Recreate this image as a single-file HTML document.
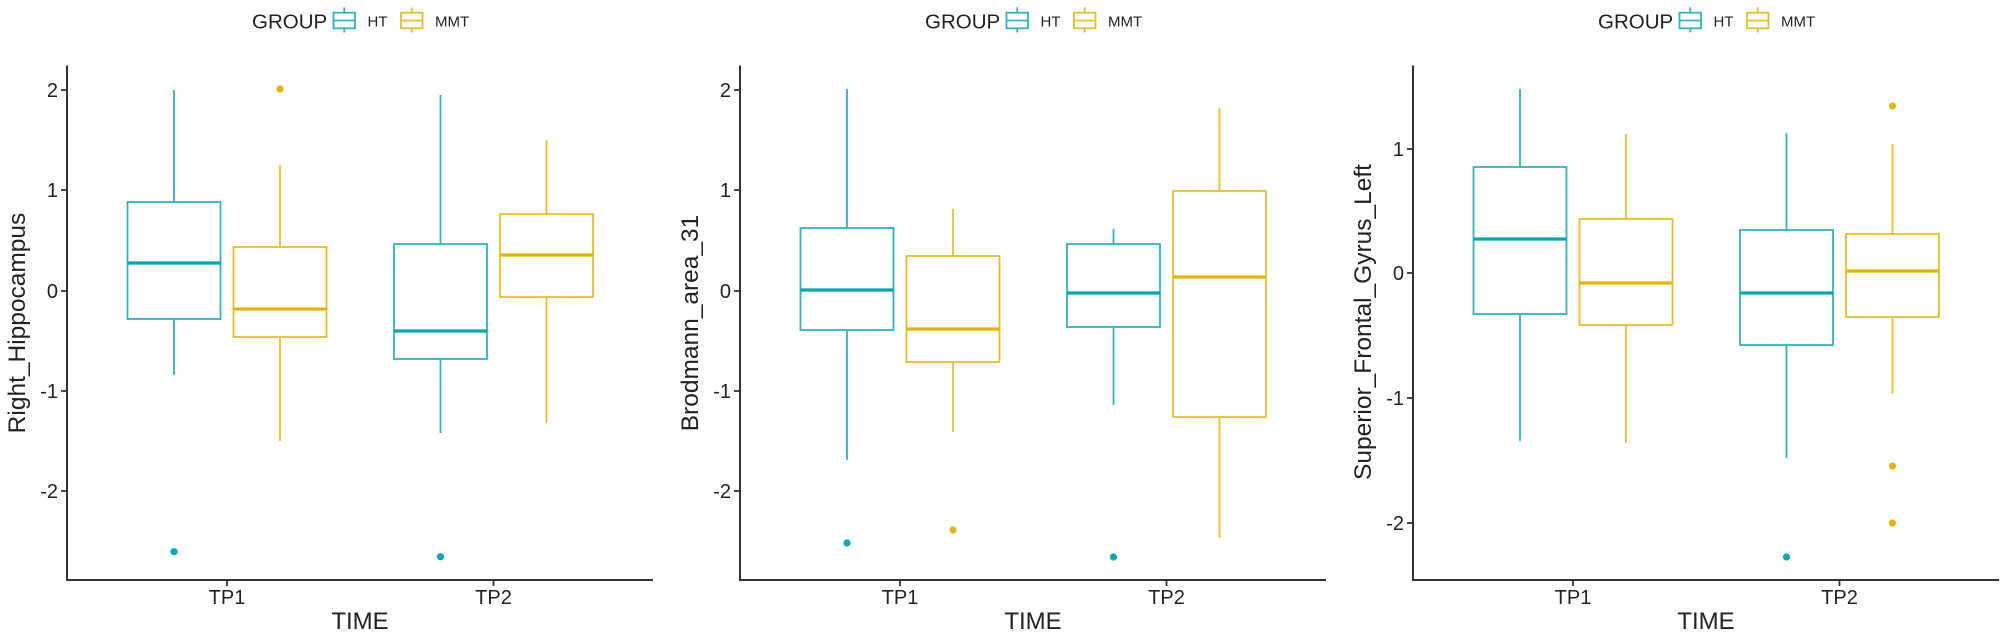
<!DOCTYPE html>
<html><head><meta charset="utf-8"><style>
html,body{margin:0;padding:0;background:#fff;}
svg{display:block;}
text{font-family:"Liberation Sans",Arial,sans-serif;fill:#222;}
</style></head><body>
<svg width="2005" height="638" viewBox="0 0 2005 638" xmlns="http://www.w3.org/2000/svg">
<defs>
<g id="legend">
  <text x="252" y="28.5" font-size="20.5">GROUP</text>
  <g stroke="#2fb5c0" stroke-width="1.8" fill="#fff">
    <line x1="344.25" y1="7.3" x2="344.25" y2="12.7"/>
    <line x1="344.25" y1="28.3" x2="344.25" y2="32.5"/>
    <rect x="333.5" y="12.7" width="21.5" height="15.6"/>
    <line x1="333.5" y1="20.5" x2="355" y2="20.5"/>
  </g>
  <text x="367.5" y="26.7" font-size="15">HT</text>
  <g stroke="#e9bd2a" stroke-width="1.8" fill="#fff">
    <line x1="411.75" y1="7.3" x2="411.75" y2="12.7"/>
    <line x1="411.75" y1="28.3" x2="411.75" y2="32.5"/>
    <rect x="401" y="12.7" width="21.5" height="15.6"/>
    <line x1="401" y1="20.5" x2="422.5" y2="20.5"/>
  </g>
  <text x="435" y="26.7" font-size="15">MMT</text>
</g>
<g id="xaxis">
  <line x1="67" y1="580" x2="653" y2="580" stroke="#333" stroke-width="2"/>
  <line x1="67" y1="65.5" x2="67" y2="581" stroke="#333" stroke-width="2"/>
  <line x1="227" y1="580" x2="227" y2="586" stroke="#333" stroke-width="1.8"/>
  <line x1="493.5" y1="580" x2="493.5" y2="586" stroke="#333" stroke-width="1.8"/>
  <text x="227" y="604" font-size="20" text-anchor="middle">TP1</text>
  <text x="493.5" y="604" font-size="20" text-anchor="middle">TP2</text>
  <text x="360" y="629" font-size="24" text-anchor="middle">TIME</text>
</g>
</defs>

<!-- ================= PANEL 1 ================= -->
<g>
  <use href="#legend"/>
  <use href="#xaxis"/>
  <g stroke="#333" stroke-width="1.8">
    <line x1="61" y1="90" x2="67" y2="90"/>
    <line x1="61" y1="190" x2="67" y2="190"/>
    <line x1="61" y1="291" x2="67" y2="291"/>
    <line x1="61" y1="391" x2="67" y2="391"/>
    <line x1="61" y1="491" x2="67" y2="491"/>
  </g>
  <g font-size="20" text-anchor="end">
    <text x="58" y="97">2</text>
    <text x="58" y="197">1</text>
    <text x="58" y="298">0</text>
    <text x="58" y="398">-1</text>
    <text x="58" y="498">-2</text>
  </g>
  <text transform="translate(25,323) rotate(-90)" font-size="24.5" text-anchor="middle">Right_Hippocampus</text>

  <!-- HT TP1 -->
  <g stroke="#2fb5c0" stroke-width="1.8" fill="#fff">
    <line x1="174" y1="90" x2="174" y2="202"/>
    <line x1="174" y1="319" x2="174" y2="375"/>
    <rect x="127.5" y="202" width="93" height="117"/>
    <line x1="127.5" y1="263" x2="220.5" y2="263" stroke="#00a8b4" stroke-width="3.2"/>
  </g>
  <circle cx="174" cy="551.7" r="3.6" fill="#00aab7"/>
  <!-- MMT TP1 -->
  <g stroke="#e9bd2a" stroke-width="1.8" fill="#fff">
    <line x1="280" y1="165" x2="280" y2="247"/>
    <line x1="280" y1="337" x2="280" y2="441"/>
    <rect x="233.5" y="247" width="93" height="90"/>
    <line x1="233.5" y1="309" x2="326.5" y2="309" stroke="#e5b300" stroke-width="3.2"/>
  </g>
  <circle cx="280" cy="89" r="3.6" fill="#e5b300"/>
  <!-- HT TP2 -->
  <g stroke="#2fb5c0" stroke-width="1.8" fill="#fff">
    <line x1="440.5" y1="95" x2="440.5" y2="244"/>
    <line x1="440.5" y1="359" x2="440.5" y2="433"/>
    <rect x="394" y="244" width="93" height="115"/>
    <line x1="394" y1="331" x2="487" y2="331" stroke="#00a8b4" stroke-width="3.2"/>
  </g>
  <circle cx="440.5" cy="556.7" r="3.6" fill="#00aab7"/>
  <!-- MMT TP2 -->
  <g stroke="#e9bd2a" stroke-width="1.8" fill="#fff">
    <line x1="546.5" y1="140" x2="546.5" y2="214"/>
    <line x1="546.5" y1="297" x2="546.5" y2="423"/>
    <rect x="500" y="214" width="93" height="83"/>
    <line x1="500" y1="255" x2="593" y2="255" stroke="#e5b300" stroke-width="3.2"/>
  </g>
</g>

<!-- ================= PANEL 2 ================= -->
<g transform="translate(673,0)">
  <use href="#legend"/>
  <use href="#xaxis"/>
  <g stroke="#333" stroke-width="1.8">
    <line x1="61" y1="90" x2="67" y2="90"/>
    <line x1="61" y1="190" x2="67" y2="190"/>
    <line x1="61" y1="291" x2="67" y2="291"/>
    <line x1="61" y1="391" x2="67" y2="391"/>
    <line x1="61" y1="491" x2="67" y2="491"/>
  </g>
  <g font-size="20" text-anchor="end">
    <text x="58" y="97">2</text>
    <text x="58" y="197">1</text>
    <text x="58" y="298">0</text>
    <text x="58" y="398">-1</text>
    <text x="58" y="498">-2</text>
  </g>
  <text transform="translate(25,323) rotate(-90)" font-size="24.5" text-anchor="middle">Brodmann_area_31</text>

  <!-- HT TP1 -->
  <g stroke="#2fb5c0" stroke-width="1.8" fill="#fff">
    <line x1="174" y1="89" x2="174" y2="228"/>
    <line x1="174" y1="330" x2="174" y2="460"/>
    <rect x="127.5" y="228" width="93" height="102"/>
    <line x1="127.5" y1="290" x2="220.5" y2="290" stroke="#00a8b4" stroke-width="3.2"/>
  </g>
  <circle cx="174" cy="543" r="3.6" fill="#00aab7"/>
  <!-- MMT TP1 -->
  <g stroke="#e9bd2a" stroke-width="1.8" fill="#fff">
    <line x1="280" y1="209" x2="280" y2="256"/>
    <line x1="280" y1="362" x2="280" y2="432"/>
    <rect x="233.5" y="256" width="93" height="106"/>
    <line x1="233.5" y1="329" x2="326.5" y2="329" stroke="#e5b300" stroke-width="3.2"/>
  </g>
  <circle cx="280" cy="530" r="3.6" fill="#e5b300"/>
  <!-- HT TP2 -->
  <g stroke="#2fb5c0" stroke-width="1.8" fill="#fff">
    <line x1="440.5" y1="229" x2="440.5" y2="244"/>
    <line x1="440.5" y1="327" x2="440.5" y2="405"/>
    <rect x="394" y="244" width="93" height="83"/>
    <line x1="394" y1="293" x2="487" y2="293" stroke="#00a8b4" stroke-width="3.2"/>
  </g>
  <circle cx="440.5" cy="557" r="3.6" fill="#00aab7"/>
  <!-- MMT TP2 -->
  <g stroke="#e9bd2a" stroke-width="1.8" fill="#fff">
    <line x1="546.5" y1="108" x2="546.5" y2="191"/>
    <line x1="546.5" y1="417" x2="546.5" y2="538"/>
    <rect x="500" y="191" width="93" height="226"/>
    <line x1="500" y1="277" x2="593" y2="277" stroke="#e5b300" stroke-width="3.2"/>
  </g>
</g>

<!-- ================= PANEL 3 ================= -->
<g transform="translate(1346,0)">
  <use href="#legend"/>
  <use href="#xaxis"/>
  <g stroke="#333" stroke-width="1.8">
    <line x1="61" y1="149" x2="67" y2="149"/>
    <line x1="61" y1="273" x2="67" y2="273"/>
    <line x1="61" y1="398" x2="67" y2="398"/>
    <line x1="61" y1="523" x2="67" y2="523"/>
  </g>
  <g font-size="20" text-anchor="end">
    <text x="58" y="156">1</text>
    <text x="58" y="280">0</text>
    <text x="58" y="405">-1</text>
    <text x="58" y="530">-2</text>
  </g>
  <text transform="translate(25,322) rotate(-90)" font-size="24.5" text-anchor="middle">Superior_Frontal_Gyrus_Left</text>

  <!-- HT TP1 -->
  <g stroke="#2fb5c0" stroke-width="1.8" fill="#fff">
    <line x1="174" y1="89" x2="174" y2="167"/>
    <line x1="174" y1="314" x2="174" y2="441"/>
    <rect x="127.5" y="167" width="93" height="147"/>
    <line x1="127.5" y1="239" x2="220.5" y2="239" stroke="#00a8b4" stroke-width="3.2"/>
  </g>
  <!-- MMT TP1 -->
  <g stroke="#e9bd2a" stroke-width="1.8" fill="#fff">
    <line x1="280" y1="134" x2="280" y2="219"/>
    <line x1="280" y1="325" x2="280" y2="443"/>
    <rect x="233.5" y="219" width="93" height="106"/>
    <line x1="233.5" y1="283" x2="326.5" y2="283" stroke="#e5b300" stroke-width="3.2"/>
  </g>
  <!-- HT TP2 -->
  <g stroke="#2fb5c0" stroke-width="1.8" fill="#fff">
    <line x1="440.5" y1="133" x2="440.5" y2="230"/>
    <line x1="440.5" y1="345" x2="440.5" y2="458"/>
    <rect x="394" y="230" width="93" height="115"/>
    <line x1="394" y1="293" x2="487" y2="293" stroke="#00a8b4" stroke-width="3.2"/>
  </g>
  <circle cx="440.5" cy="557" r="3.6" fill="#00aab7"/>
  <!-- MMT TP2 -->
  <g stroke="#e9bd2a" stroke-width="1.8" fill="#fff">
    <line x1="546.5" y1="144" x2="546.5" y2="234"/>
    <line x1="546.5" y1="317" x2="546.5" y2="394"/>
    <rect x="500" y="234" width="93" height="83"/>
    <line x1="500" y1="271" x2="593" y2="271" stroke="#e5b300" stroke-width="3.2"/>
  </g>
  <circle cx="546.5" cy="106" r="3.6" fill="#e5b300"/>
  <circle cx="546.5" cy="466" r="3.6" fill="#e5b300"/>
  <circle cx="546.5" cy="523" r="3.6" fill="#e5b300"/>
</g>
</svg>
</body></html>
